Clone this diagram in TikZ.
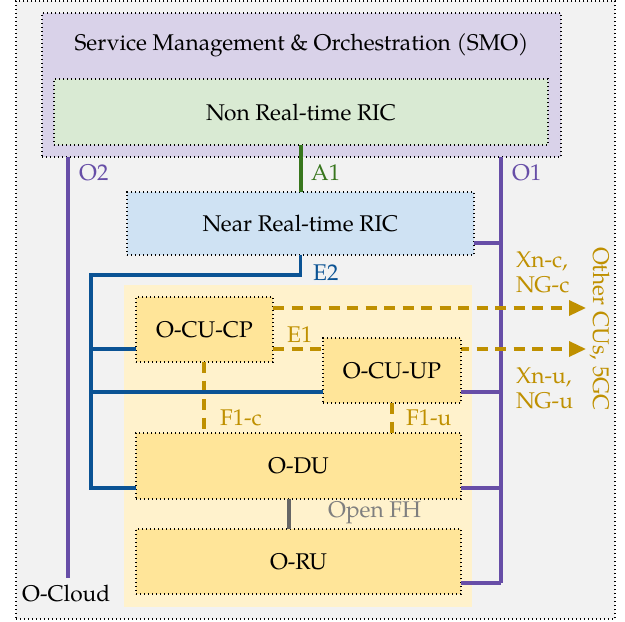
\documentclass[tikz,border=0pt]{standalone}
\usepackage{fontspec}
\setmainfont{TeX Gyre Pagella}
\usetikzlibrary{arrows.meta}
\definecolor{cloudbg}{HTML}{F2F2F2}
\definecolor{smobg}{HTML}{D9D2E9}
\definecolor{greenbg}{HTML}{D9EAD3}
\definecolor{bluebg}{HTML}{CFE2F3}
\definecolor{ranbg}{HTML}{FFF2CC}
\definecolor{yboxbg}{HTML}{FFE599}
\definecolor{purp}{HTML}{674EA7}
\definecolor{blu}{HTML}{0B5394}
\definecolor{grn}{HTML}{38761D}
\definecolor{gld}{HTML}{BF9000}
\definecolor{gry}{HTML}{666666}
\definecolor{grytxt}{HTML}{7F7F7F}
\tikzset{
  dotb/.style={draw=black, line width=1.4pt, dash pattern=on 1.4pt off 2.6pt},
  boxnode/.style={dotb, inner sep=0pt, outer sep=0pt, anchor=north west},
  cloudbox/.style={boxnode, fill=cloudbg},
  smobox/.style={boxnode, fill=smobg},
  greenbox/.style={boxnode, fill=greenbg},
  bluebox/.style={boxnode, fill=bluebg},
  ranbox/.style={fill=ranbg, inner sep=0pt, outer sep=0pt, anchor=north west},
  ybox/.style={boxnode, fill=yboxbg},
  oline/.style={draw=purp, line width=3.2pt},
  eline/.style={draw=blu, line width=3.2pt},
  aline/.style={draw=grn, line width=3.2pt},
  fhline/.style={draw=gry, line width=3.2pt},
  gdash/.style={draw=gld, line width=3.4pt, dash pattern=on 11pt off 7.5pt},
  gtip/.style={-{Triangle[length=17pt,width=15pt]}},
  lbl/.style={anchor=west, inner sep=0pt}
}
\begin{document}
\begin{tikzpicture}[x=1pt, y=-1pt, font=\fontsize{22.7}{25}\selectfont]
\useasboundingbox (0,0) rectangle (625,622);
% containers
\node[cloudbox, minimum width=599pt, minimum height=618pt] (cloud) at (16,1) {};
\node[lbl] (cloudlbl) at (22,593) {O-Cloud};
\node[smobox, minimum width=519pt, minimum height=144pt] (smo) at (42,13) {};
\node (smolbl) at (301.5,45) {Service Management \& Orchestration (SMO)};
\node[greenbox, minimum width=494pt, minimum height=66pt] (nonrt) at (54,79) {Non Real-time RIC};
\node[bluebox, minimum width=347pt, minimum height=63pt] (nearrt) at (127,192) {Near Real-time RIC};
\node[ranbox, minimum width=348pt, minimum height=322pt] (ran) at (124,285) {};
\node[ybox, minimum width=137pt, minimum height=65pt] (cucp) at (136,297) {O-CU-CP};
\node[ybox, minimum width=325pt, minimum height=66pt] (odu) at (136,433) {O-DU};
\node[ybox, minimum width=325pt, minimum height=65pt] (oru) at (136,529) {O-RU};
% O-interfaces (vertical buses)
\coordinate (o2bot) at (68,578);
\coordinate (o1bot) at (501,583);
\draw[oline] (o2bot |- smo.south) -- (o2bot);
\draw[oline] (o1bot |- smo.south) -- (o1bot);
% Xn / NG dashed arrows
\coordinate (tipc) at (586,308);
\coordinate (tipu) at (586,349);
\draw[gdash, gtip] (tipc -| cucp.east) -- (tipc);
\draw[gdash, gtip] (tipu -| cucp.east) -- (tipu);
\node[ybox, minimum width=138pt, minimum height=65pt] (cuup) at (323,338) {O-CU-UP};
% F1 dashed
\draw[gdash] (cucp.south -| 204,0) -- (odu.north -| 204,0);
\draw[gdash] (cuup.south -| 392,0) -- (odu.north -| 392,0);
% E2 bus
\coordinate (e2l) at (91,275);
\coordinate (cucpb) at ([yshift=13pt]cucp.south west);
\coordinate (cuupb) at ([yshift=11pt]cuup.south west);
\coordinate (odub) at ([yshift=11pt]odu.south west);
\draw[eline] (nearrt.south) |- (e2l) |- (odub);
\draw[eline] (cucpb -| e2l) -- (cucpb);
\draw[eline] (cuupb -| e2l) -- (cuupb);
% O1 branches
\coordinate (nrtr) at ([yshift=-19.5pt]nearrt.east);
\coordinate (cuupr) at ([yshift=11pt]cuup.south east);
\coordinate (odur) at ([yshift=11pt]odu.south east);
\coordinate (orur) at ([yshift=11pt]oru.south east);
\draw[oline] (nrtr) -- (nrtr -| o1bot);
\draw[oline] (cuupr) -- (cuupr -| o1bot);
\draw[oline] (odur) -- (odur -| o1bot);
\draw[oline] (orur) -- (orur -| o1bot);
% A1 and Open FH
\draw[aline] (nonrt.south -| 301,0) -- (nearrt.north -| 301,0);
\draw[fhline] (odu.south -| 289,0) -- (oru.north -| 289,0);
% labels
\node[lbl, text=purp] (o2lbl) at (79,173) {O2};
\node[lbl, text=grn] (a1lbl) at (311,173) {A1};
\node[lbl, text=purp] (o1lbl) at (512,173) {O1};
\node[lbl, text=blu] (e2lbl) at (313,273) {E2};
\node[lbl, text=gld] (e1lbl) at (287,335) {E1};
\node[lbl, text=gld] (f1clbl) at (220,418) {F1-c};
\node[lbl, text=gld] (f1ulbl) at (406,418) {F1-u};
\node[lbl, text=grytxt] (fhlbl) at (328,513) {Open FH};
\node[lbl, text=gld, align=left] (xnclbl) at (516,272) {Xn-c,\\NG-c};
\node[lbl, text=gld, align=left] (xnulbl) at (516,388) {Xn-u,\\NG-u};
\node[text=gld, rotate=-90, inner sep=0pt] (otherlbl) at (600,329) {Other CUs, 5GC};
\end{tikzpicture}
\end{document}
